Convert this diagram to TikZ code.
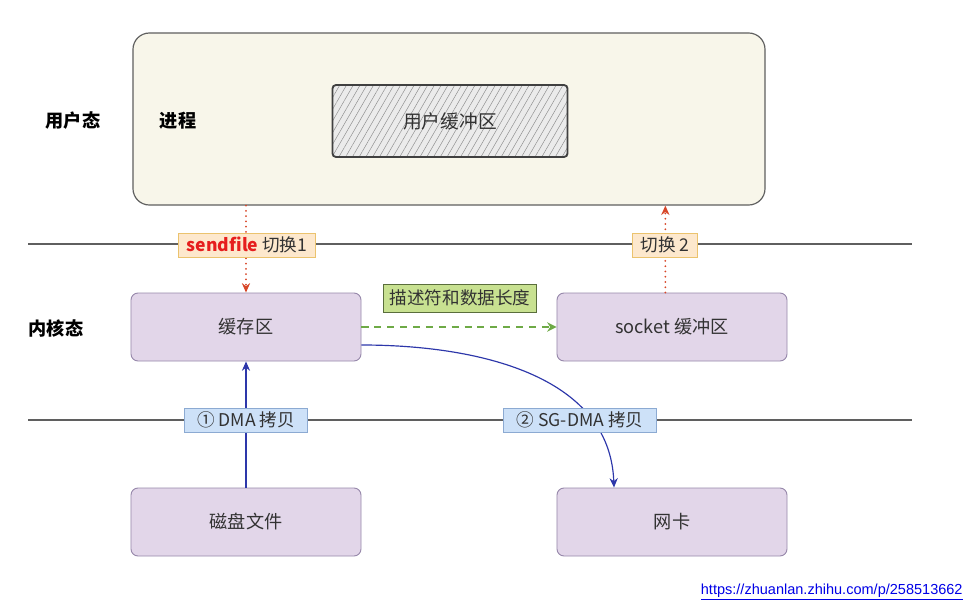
\documentclass[tikz,border=0pt]{standalone}
\usepackage{fontspec}
\setmainfont{Noto Sans CJK SC}
\newfontfamily\linkfont{Liberation Sans}
\usetikzlibrary{arrows.meta, positioning, patterns.meta, calc}
\definecolor{procfill}{RGB}{248,246,234}
\definecolor{procline}{RGB}{95,95,95}
\definecolor{kernfill}{RGB}{226,214,233}
\definecolor{kernline}{RGB}{150,135,170}
\definecolor{swfill}{RGB}{253,232,205}
\definecolor{swline}{RGB}{235,195,110}
\definecolor{dmafill}{RGB}{205,225,248}
\definecolor{dmaline}{RGB}{140,170,210}
\definecolor{descfill}{RGB}{200,225,145}
\definecolor{descline}{RGB}{90,110,60}
\definecolor{ctxarrow}{RGB}{215,70,40}
\definecolor{dmaarrow}{RGB}{45,55,170}
\definecolor{descarrow}{RGB}{110,170,70}
\definecolor{textgray}{RGB}{50,50,50}

\begin{document}
\begin{tikzpicture}[x=0.03cm, y=-0.03cm,
  kbox/.style={rectangle, rounded corners=6pt, draw=kernline, fill=kernfill, line width=0.8pt, minimum width=6.9cm, minimum height=2.04cm, font=\fontsize{15.5}{18}\selectfont, text=textgray},
  tag/.style={rectangle, draw, line width=0.8pt, minimum height=0.72cm, inner xsep=7pt, inner ysep=2pt, font=\fontsize{15}{17}\selectfont, text=textgray},
  swtag/.style={tag, fill=swfill, draw=swline},
  dmatag/.style={tag, fill=dmafill, draw=dmaline, inner xsep=11pt},
  lvl/.style={font=\fontsize{15.5}{18}\selectfont\bfseries},
  sep/.style={draw=procline, line width=0.9pt},
  ctx/.style={ctxarrow, line width=1.7pt, line cap=round, dash pattern=on 0pt off 4.5pt, -{Stealth[length=8pt, width=7pt]}}
]
  \useasboundingbox (0,0) rectangle (967,615);

  % Separator lines
  \coordinate (l1a) at (28,244);
  \coordinate (l1b) at (912,244);
  \coordinate (l2a) at (28,420);
  \coordinate (l2b) at (912,420);
  \draw[sep] (l1a) -- (l1b);
  \draw[sep] (l2a) -- (l2b);

  % User space
  \node[lvl] (user) at (73,121) {用户态};
  \node[rectangle, rounded corners=14pt, draw=procline, fill=procfill, line width=1pt, minimum width=18.96cm, minimum height=5.16cm] (proc) at (449,119) {};
  \node[lvl] (procname) at (178,121) {进程};
  \node[rectangle, rounded corners=3pt, draw=black!75, line width=1.6pt, preaction={fill=black!8}, pattern={Lines[angle=60, distance=5pt, line width=0.4pt]}, pattern color=black!45, minimum width=7.05cm, minimum height=2.16cm] (ubuf) at (450,121) {};
  \node[font=\fontsize{16}{18}\selectfont, text=textgray] (ubuftxt) at (ubuf) {用户缓冲区};

  % Kernel space
  \node[lvl] (kernel) at (56,328) {内核态};
  \node[kbox] (cache) at (246,327) {缓存区};
  \node[kbox] (sock) at (672,327) {socket 缓冲区};

  % Devices
  \node[kbox] (disk) at (246,522) {磁盘文件};
  \node[kbox] (nic) at (672,522) {网卡};

  % Arrows
  \draw[ctx] (cache.north |- proc.south) -- (cache.north);
  \draw[ctx] ([xshift=-0.2cm]sock.north) -- ([xshift=-0.2cm]sock.north |- proc.south);
  \draw[descarrow, dash pattern=on 6pt off 5pt, line width=1.3pt, -{Stealth[length=8pt, width=8pt]}] (cache.east) -- (sock.west);
  \draw[dmaarrow, line width=1pt, -{Stealth[length=8pt, width=7pt]}] (disk.north) -- (cache.south);
  \draw[dmaarrow, line width=1pt, -{Stealth[length=8pt, width=7pt]}] ([yshift=-0.54cm]cache.east) to[out=0, in=92] ([xshift=-1.74cm]nic.north);

  % Labels
  \node[swtag] (sw1) at (247,245) {\textcolor[RGB]{230,30,30}{\bfseries sendfile} 切换1};
  \node[swtag] (sw2) at (665,245) {切换 2};
  \node[rectangle, draw=descline, fill=descfill, line width=0.8pt, minimum height=0.84cm, inner xsep=5pt, font=\fontsize{15}{17}\selectfont, text=textgray] (desc) at (460,298) {描述符和数据长度};
  \node[dmatag] (dma1) at (246,420) {① DMA 拷贝};
  \node[dmatag] (dma2) at (580,420) {② SG-DMA 拷贝};

  % Source
  \node[font=\linkfont\fontsize{12.4}{14}\selectfont, text={rgb,255:red,0;green,0;blue,230}, anchor=east, inner sep=1pt] (src) at (964,592) {\underline{https://zhuanlan.zhihu.com/p/258513662}};
\end{tikzpicture}
\end{document}
